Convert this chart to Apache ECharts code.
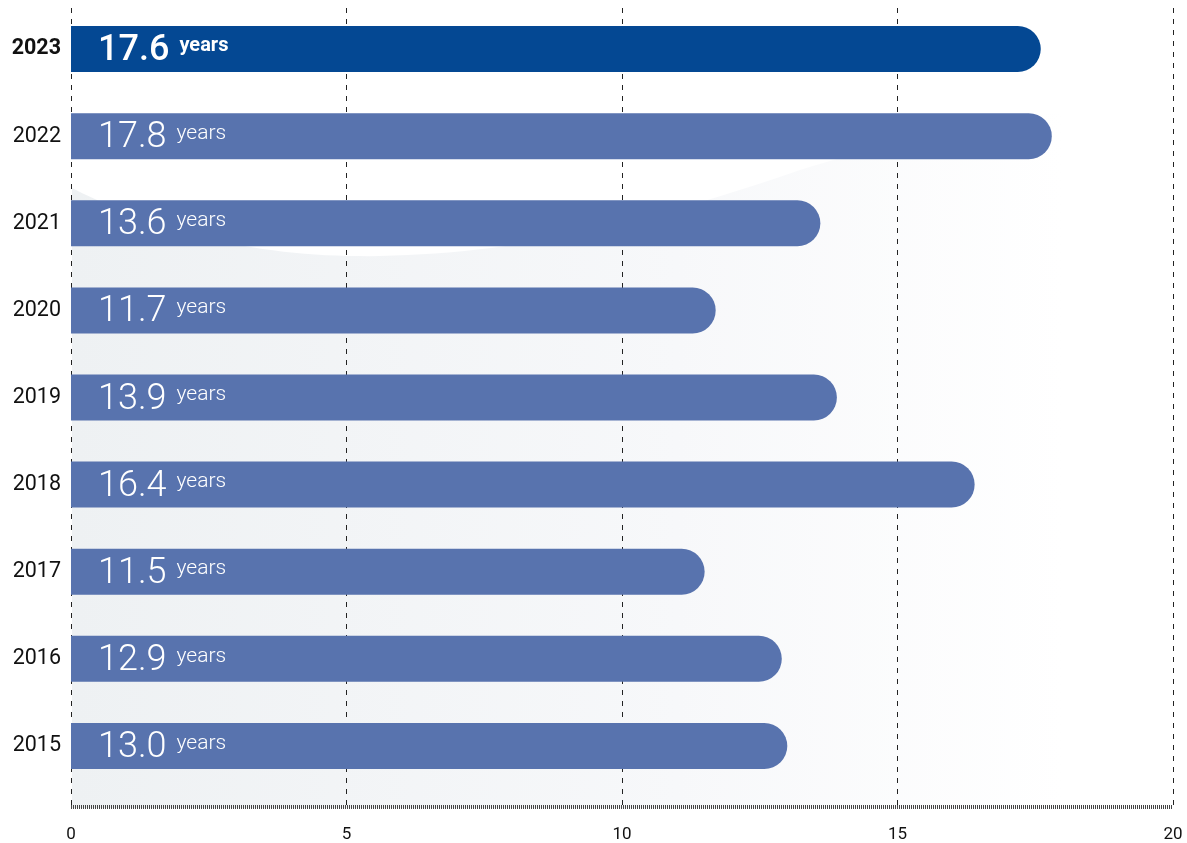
<!DOCTYPE html>
<html>
<head>
<meta charset="utf-8">
<title>Years</title>
<script src="https://cdn.jsdelivr.net/npm/echarts@6/dist/echarts.min.js"></script>
<style>
  html, body { margin: 0; padding: 0; background: #ffffff; }
  #chart { width: 1187px; height: 843px; }
</style>
</head>
<body>
<div id="chart"></div>
<script>
// Years shown top to bottom
const years = ['2023', '2022', '2021', '2020', '2019', '2018', '2017', '2016', '2015'];
// Value per year
const values = [17.6, 17.8, 13.6, 11.7, 13.9, 16.4, 11.5, 12.9, 13.0];
// Horizontal axis
const xTicks = [0, 5, 10, 15, 20];
const unit = 'years';
const highlightYear = '2023';

const FONT = 'Roboto, "Noto Sans", sans-serif';
const chart = echarts.init(document.getElementById('chart'), null, { renderer: 'canvas' });

// Soft wave backdrop: sample cubic bezier segments into a polygon outline
function cubic(p0, p1, p2, p3, n) {
  const pts = [];
  for (let k = 0; k <= n; k++) {
    const t = k / n, u = 1 - t;
    pts.push([
      u * u * u * p0[0] + 3 * u * u * t * p1[0] + 3 * u * t * t * p2[0] + t * t * t * p3[0],
      u * u * u * p0[1] + 3 * u * u * t * p1[1] + 3 * u * t * t * p2[1] + t * t * t * p3[1]
    ]);
  }
  return pts;
}
const wave = []
  .concat(cubic([72, 188], [170, 238], [270, 258], [380, 256], 30))
  .concat(cubic([380, 256], [520, 253], [640, 225], [800, 170], 30).slice(1))
  .concat(cubic([800, 170], [920, 132], [1040, 112], [1173, 98], 30).slice(1));
wave.push([1173, 808], [72, 808]);

const barData = values.map((v, i) => {
  const hi = years[i] === highlightYear;
  return {
    value: v,
    itemStyle: { color: hi ? '#044893' : '#5873ae' },
    label: {
      formatter: hi ? '{vb|' + v.toFixed(1) + '}{ub|' + unit + '}' : '{v|' + v.toFixed(1) + '}{u|' + unit + '}'
    }
  };
});

const option = {
  backgroundColor: '#ffffff',
  animation: false,
  graphic: [{
    type: 'polygon',
    z: -10,
    silent: true,
    shape: { points: wave },
    style: {
      fill: {
        type: 'linear', x: 0, y: 0, x2: 1, y2: 0,
        colorStops: [
          { offset: 0, color: '#eef1f3' },
          { offset: 0.55, color: '#f7f8fa' },
          { offset: 0.9, color: '#ffffff' }
        ]
      }
    }
  }],
  grid: [
    { left: 71, right: 14, top: 5.5, height: 784 },
    { left: 71, right: 14, top: 8, bottom: 33 }
  ],
  xAxis: [
    {
      gridIndex: 0, type: 'value', min: 0, max: 20, interval: 5,
      show: false
    },
    {
      gridIndex: 1, type: 'value', min: xTicks[0], max: xTicks[xTicks.length - 1], interval: 5,
      axisLine: { show: true, lineStyle: { color: '#444444', width: 4, type: [1, 1], cap: 'butt' } },
      axisTick: { show: false },
      axisLabel: { color: '#111111', fontSize: 17, fontFamily: FONT, margin: 19 },
      splitLine: { show: true, lineStyle: { color: '#222222', width: 1, type: [5, 6] } }
    }
  ],
  yAxis: [
    {
      gridIndex: 0, type: 'category', data: years, inverse: true,
      axisLine: { show: false },
      axisTick: { show: false },
      axisLabel: {
        margin: 10,
        fontFamily: FONT,
        fontSize: 21.5,
        color: '#111111',
        formatter: (val) => val === highlightYear ? '{b|' + val + '}' : val,
        rich: { b: { fontFamily: FONT, fontSize: 21.5, fontWeight: 'bold', color: '#111111' } }
      }
    },
    {
      gridIndex: 1, type: 'value', min: 0, max: 1, show: false
    }
  ],
  series: [{
    type: 'bar',
    xAxisIndex: 0,
    yAxisIndex: 0,
    data: barData,
    barWidth: 46,
    itemStyle: { borderRadius: [0, 23, 23, 0] },
    label: {
      show: true,
      position: 'insideLeft',
      distance: 27,
      offset: [0, 2],
      rich: {
        v: { fontFamily: FONT, fontSize: 36, fontWeight: 300, color: '#ffffff', lineHeight: 40 },
        u: { fontFamily: FONT, fontSize: 21, fontWeight: 300, color: '#ffffff', lineHeight: 40, verticalAlign: 'top', padding: [5, 0, 0, 10] },
        vb: { fontFamily: FONT, fontSize: 36, fontWeight: 500, color: '#ffffff', lineHeight: 40 },
        ub: { fontFamily: FONT, fontSize: 20, fontWeight: 'bold', color: '#ffffff', lineHeight: 40, verticalAlign: 'top', padding: [5, 0, 0, 10] }
      }
    }
  }]
};

chart.setOption(option);
</script>
</body>
</html>
